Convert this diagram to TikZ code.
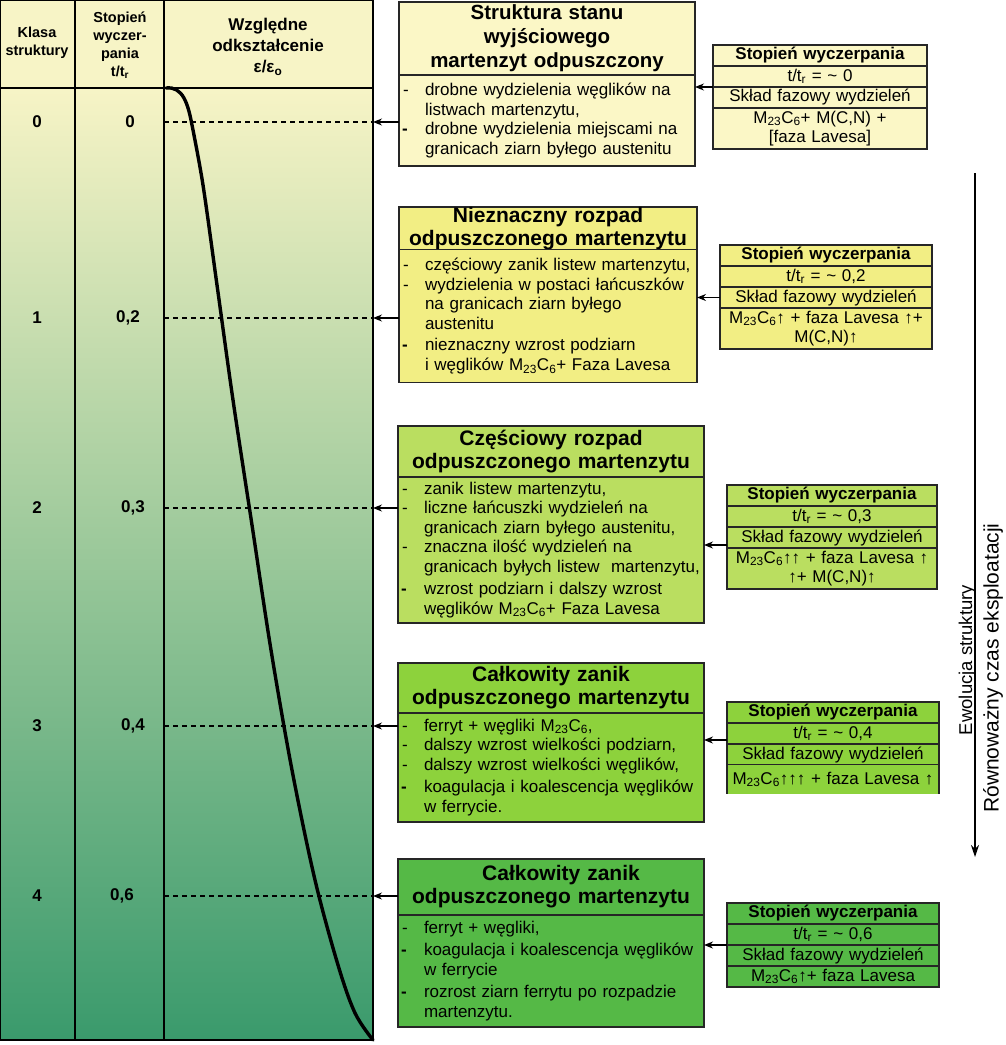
\documentclass[tikz,border=0pt]{standalone}
\usepackage{fontspec}
\setmainfont{Liberation Sans}
\usepackage{tikz}
\usetikzlibrary{positioning, arrows.meta, calc}
\definecolor{PaleCream}{HTML}{FBF7C6}
\definecolor{LightYellow}{HTML}{F2EE84}
\definecolor{YellowGreen}{HTML}{BADE60}
\definecolor{FreshGreen}{HTML}{8DD23C}
\definecolor{DeepGreen}{HTML}{55B946}
\definecolor{TableTop}{HTML}{F7F4C6}
\definecolor{TableMid}{HTML}{AED49C}
\definecolor{TableBottom}{HTML}{3A9A6C}
\newcommand{\titlefont}{\fontsize{21}{23}\selectfont\bfseries}
\newcommand{\bodyfont}{\fontsize{17}{19.5}\selectfont}
\newcommand{\cellfont}{\fontsize{17}{19}\selectfont}
\newcommand{\carb}{M\textsubscript{23}C\textsubscript{6}}
\newcommand{\itm}{\makebox[26pt][l]{\hspace{4pt}-}}
\newcommand{\itmb}{\makebox[26pt][l]{\hspace{3pt}\textbf{-}}}
\newcommand{\cnt}{\hspace*{26pt}}
\tikzset{
  % Box styles
  titlebox/.style={rectangle, draw=black!85, line width=1.1pt, fill=#1, inner xsep=0pt, inner ysep=0pt, outer sep=0pt, align=center, font=\titlefont},
  bodybox/.style={rectangle, draw=black!85, line width=1.1pt, fill=#1, inner xsep=0pt, inner ysep=0pt, outer sep=0pt, align=left, font=\bodyfont},
  cellbox/.style={rectangle, draw=black!85, line width=1.1pt, fill=#1, inner xsep=0pt, inner ysep=0pt, outer sep=0pt, minimum height=21pt, align=center, font=\cellfont},
  cellline/.style={draw=black!85, line width=1.1pt},
  % Table styles
  tablehead/.style={rectangle, draw=black, line width=1.8pt, fill=TableTop, minimum width=373pt, minimum height=88pt, inner sep=0pt, outer sep=0pt},
  tablebody/.style={rectangle, draw=black, line width=1.8pt, top color=TableTop, middle color=TableMid, bottom color=TableBottom, minimum width=373pt, minimum height=952pt, inner sep=0pt, outer sep=0pt},
  tableline/.style={draw=black, line width=1.8pt},
  headtext/.style={font=\fontsize{14.5}{18}\selectfont\bfseries, align=center, inner sep=0pt},
  rowlabel/.style={font=\fontsize{17}{20}\selectfont\bfseries, inner sep=0pt},
  evotext/.style={rotate=90, font=\fontsize{18.5}{22}\selectfont, inner sep=1pt},
  % Line styles
  strain/.style={line width=3.4pt, line cap=round},
  dashline/.style={dash pattern=on 5pt off 4pt, line width=1.1pt},
  arrow/.style={-{Stealth[length=9pt, width=7pt]}, line width=1.2pt},
  longarrow/.style={-{Stealth[length=12pt, width=8pt]}, line width=1.2pt}
}
\begin{document}
\begin{tikzpicture}[x=1pt, y=-1pt]
  \useasboundingbox (0,0) rectangle (1006,1045);

  % Table
  \node[tablehead, anchor=north west] (head) at (0,0) {};
  \node[tablebody, anchor=north west] (tab) at (0,88) {};
  \draw[tableline] (75,0) -- (75,1040);
  \draw[tableline] (164,0) -- (164,1040);

  \node[headtext] (hK) at (37,43) {Klasa\\struktury};
  \node[headtext] (hS) at (120,45) {Stopień\\wyczer-\\pania\\t/t\textsubscript{r}};
  \node[headtext, font=\fontsize{17}{21}\selectfont\bfseries] (hW) at (268,47) {Względne\\odkształcenie\\ε/ε\textsubscript{o}};

  % Rows
  \node[rowlabel] (k0) at (37,122) {0};
  \node[rowlabel] (v0) at (130,122) {0};
  \node[rowlabel] (k1) at (37,318) {1};
  \node[rowlabel] (v1) at (128,318) {0,2};
  \node[rowlabel] (k2) at (37,508) {2};
  \node[rowlabel] (v2) at (133,508) {0,3};
  \node[rowlabel] (k3) at (37,726) {3};
  \node[rowlabel] (v3) at (133,726) {0,4};
  \node[rowlabel] (k4) at (37,896) {4};
  \node[rowlabel] (v4) at (122,896) {0,6};

  \coordinate (d0) at (164,122);
  \coordinate (d1) at (164,318);
  \coordinate (d2) at (164,508);
  \coordinate (d3) at (164,726);
  \coordinate (d4) at (164,896);
  \draw[dashline] (d0) -- (d0 -| tab.east);
  \draw[dashline] (d1) -- (d1 -| tab.east);
  \draw[dashline] (d2) -- (d2 -| tab.east);
  \draw[dashline] (d3) -- (d3 -| tab.east);
  \draw[dashline] (d4) -- (d4 -| tab.east);

  % Strain curve
  \draw[strain] (166,88) .. controls (183,86) and (188,104) .. (192,125)
    -- plot[smooth, tension=0.55] coordinates {(192,125) (203,185) (217,285) (233,400) (252,525) (271,650) (292,770) (315,880) (338,965) (355,1013) (373,1040)};

  % Stage 0
  \node[titlebox=PaleCream, text width=296pt, minimum height=73pt, anchor=north west, font=\fontsize{20.5}{24}\selectfont\bfseries] (t0) at (399,2) {Struktura stanu\\wyjściowego\\martenzyt odpuszczony};
  \node[bodybox=PaleCream, text width=296pt, minimum height=91pt, below=0pt of t0] (b0) {\itm drobne wydzielenia węglików na\\
    \cnt listwach martenzytu,\\
    \itmb drobne wydzielenia miejscami na\\
    \cnt granicach ziarn byłego austenitu};

  % Stage 1
  \node[titlebox=LightYellow, text width=298pt, minimum height=42pt, anchor=north west] (t1) at (399,207) {Nieznaczny rozpad\\odpuszczonego martenzytu};
  \node[bodybox=LightYellow, text width=298pt, minimum height=133pt, below=0pt of t1] (b1) {\itm częściowy zanik listew martenzytu,\\
    \itm wydzielenia w postaci łańcuszków\\
    \cnt na granicach ziarn byłego\\
    \cnt austenitu\\[2pt]
    \itmb nieznaczny wzrost podziarn\\
    \cnt i węglików \carb+ Faza Lavesa};

  % Stage 2
  \node[titlebox=YellowGreen, text width=306pt, minimum height=51pt, anchor=north west] (t2) at (398,426) {Częściowy rozpad\\odpuszczonego martenzytu};
  \node[bodybox=YellowGreen, text width=306pt, minimum height=146pt, below=0pt of t2] (b2) {\itm zanik listew martenzytu,\\
    \itm liczne łańcuszki wydzieleń na\\
    \cnt granicach ziarn byłego austenitu,\\
    \itm znaczna ilość wydzieleń na\\
    \cnt granicach byłych listew\ \ martenzytu,\\[3pt]
    \itmb wzrost podziarn i dalszy wzrost\\
    \cnt węglików \carb+ Faza Lavesa};

  % Stage 3
  \node[titlebox=FreshGreen, text width=306pt, minimum height=50pt, anchor=north west] (t3) at (398,663) {Całkowity zanik\\odpuszczonego martenzytu};
  \node[bodybox=FreshGreen, text width=306pt, minimum height=109pt, below=0pt of t3] (b3) {\itm ferryt + węgliki \carb,\\
    \itm dalszy wzrost wielkości podziarn,\\
    \itm dalszy wzrost wielkości węglików,\\[3pt]
    \itmb koagulacja i koalescencja węglików\\
    \cnt w ferrycie.};

  % Stage 4
  \node[titlebox=DeepGreen, text width=306pt, minimum height=56pt, anchor=north west] (t4) at (398,859) {\hspace*{20pt}Całkowity zanik\\odpuszczonego martenzytu};
  \node[bodybox=DeepGreen, text width=306pt, minimum height=112pt, below=0pt of t4] (b4) {\itm ferryt + węgliki,\\[3pt]
    \itmb koagulacja i koalescencja węglików\\
    \cnt w ferrycie\\[3pt]
    \itmb rozrost ziarn ferrytu po rozpadzie\\
    \cnt martenzytu.};

  % Exhaustion tables
  \node[cellbox=PaleCream, text width=214pt, anchor=north west, font=\cellfont\bfseries] (s0a) at (713,45) {Stopień wyczerpania};
  \node[cellbox=PaleCream, text width=214pt, below=0pt of s0a] (s0b) {t/t\textsubscript{r} = \textasciitilde{} 0};
  \node[cellbox=PaleCream, text width=214pt, below=0pt of s0b] (s0c) {Skład fazowy wydzieleń};
  \node[cellbox=PaleCream, text width=214pt, minimum height=41pt, below=0pt of s0c] (s0d) {\carb+ M(C,N) +\\{[}faza Lavesa{]}};

  \node[cellbox=LightYellow, text width=212pt, anchor=north west, font=\cellfont\bfseries] (s1a) at (720,245) {Stopień wyczerpania};
  \node[cellbox=LightYellow, text width=212pt, below=0pt of s1a] (s1b) {t/t\textsubscript{r} = \textasciitilde{} 0,2};
  \node[cellbox=LightYellow, text width=212pt, below=0pt of s1b] (s1c) {Skład fazowy wydzieleń};
  \node[cellbox=LightYellow, text width=212pt, minimum height=41pt, below=0pt of s1c] (s1d) {\carb↑ + faza Lavesa ↑+\\M(C,N)↑};

  \node[cellbox=YellowGreen, text width=210pt, anchor=north west, font=\cellfont\bfseries] (s2a) at (727,485) {Stopień wyczerpania};
  \node[cellbox=YellowGreen, text width=210pt, below=0pt of s2a] (s2b) {t/t\textsubscript{r} = \textasciitilde{} 0,3};
  \node[cellbox=YellowGreen, text width=210pt, below=0pt of s2b] (s2c) {Skład fazowy wydzieleń};
  \node[cellbox=YellowGreen, text width=210pt, minimum height=41pt, below=0pt of s2c] (s2d) {\carb↑↑ + faza Lavesa ↑\\↑+ M(C,N)↑};

  \node[cellbox=FreshGreen, text width=212pt, anchor=north west, font=\cellfont\bfseries] (s3a) at (727,702) {Stopień wyczerpania};
  \node[cellbox=FreshGreen, text width=212pt, below=0pt of s3a] (s3b) {t/t\textsubscript{r} = \textasciitilde{} 0,4};
  \node[cellbox=FreshGreen, text width=212pt, below=0pt of s3b] (s3c) {Skład fazowy wydzieleń};
  \node[cellbox=FreshGreen, draw=none, text width=212pt, minimum height=29pt, below=0pt of s3c] (s3d) {\carb↑↑↑ + faza Lavesa ↑};
  \draw[cellline] (s3d.north west) -- (s3d.south west) (s3d.north east) -- (s3d.south east);

  \node[cellbox=DeepGreen, text width=212pt, anchor=north west, font=\cellfont\bfseries] (s4a) at (727,903) {Stopień wyczerpania};
  \node[cellbox=DeepGreen, text width=212pt, below=0pt of s4a] (s4b) {t/t\textsubscript{r} = \textasciitilde{} 0,6};
  \node[cellbox=DeepGreen, text width=212pt, below=0pt of s4b] (s4c) {Skład fazowy wydzieleń};
  \node[cellbox=DeepGreen, text width=212pt, below=0pt of s4c] (s4d) {\carb↑+ faza Lavesa};

  % Arrows to the table
  \draw[arrow] (b0.west |- d0) -- (d0 -| tab.east);
  \draw[arrow] (b1.west |- d1) -- (d1 -| tab.east);
  \draw[arrow] (b2.west |- d2) -- (d2 -| tab.east);
  \draw[arrow] (b3.west |- d3) -- (d3 -| tab.east);
  \draw[arrow] (t4.west |- d4) -- (d4 -| tab.east);

  % Arrows to the stages
  \draw[arrow] (s0c.north west) -- (s0c.north west -| b0.east);
  \draw[arrow] (s1c.west) -- (s1c.west -| b1.east);
  \draw[arrow] ([yshift=3pt]s2c.south west) -- ([yshift=3pt]s2c.south west -| b2.east);
  \draw[arrow] ([yshift=4pt]s3b.south west) -- ([yshift=4pt]s3b.south west -| b3.east);
  \draw[arrow] (s4c.north west) -- (s4c.north west -| b4.east);

  % Evolution axis
  \coordinate (evtop) at (975,173);
  \coordinate (evbot) at (975,857);
  \draw[longarrow] (evtop) -- (evbot);
  \node[evotext, anchor=base] (evo) at (972,660) {Ewolucja struktury};
  \node[evotext, anchor=north, font=\fontsize{21}{24}\selectfont] (eqt) at (982,668) {Równoważny czas eksploatacji};
\end{tikzpicture}
\end{document}
